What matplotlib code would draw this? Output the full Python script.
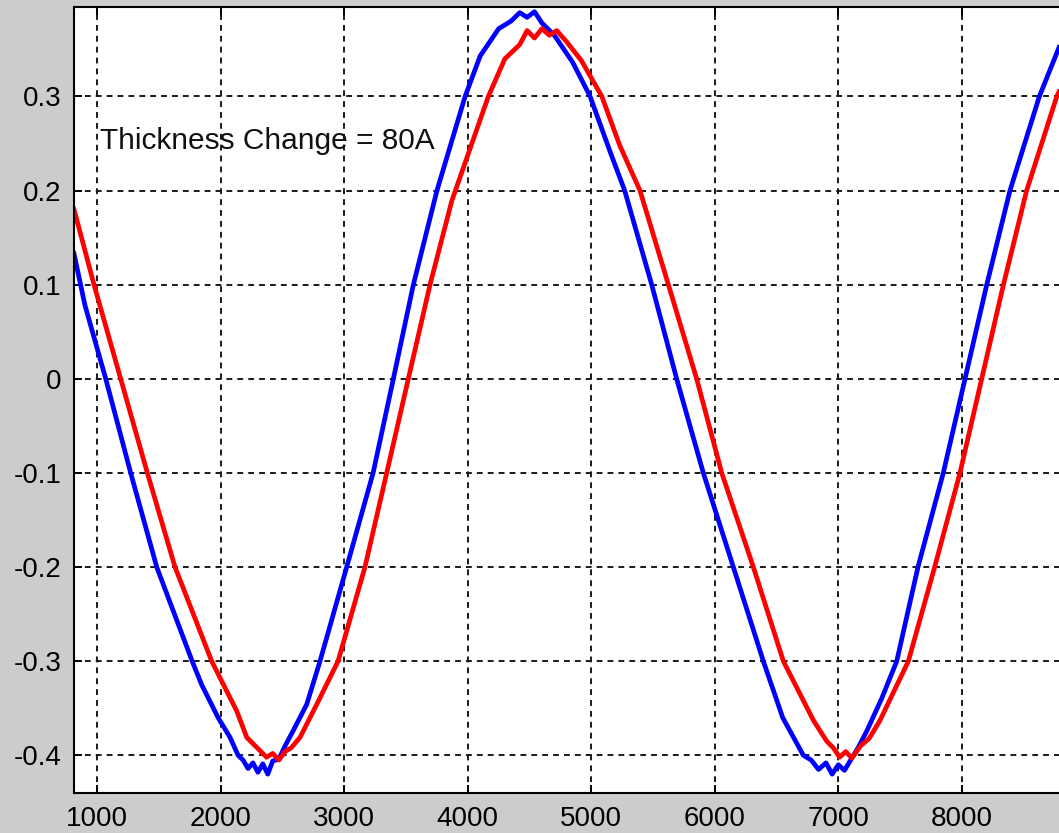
"""
Thickness change plot: two shifted, noisy sinusoidal signals (blue / red).
"""

import matplotlib
matplotlib.use('Agg')
import matplotlib.pyplot as plt

# --- data ---
blue_x = [811, 900, 1068, 1270, 1481, 1768, 1845, 1978, 2075, 2140, 2180, 2220,
          2260, 2300, 2340, 2380, 2420, 2470, 2520, 2585, 2695, 2803, 3019, 3233,
          3397, 3559, 3750, 3978, 4100, 4250, 4350, 4420, 4480, 4540, 4600, 4700,
          4850, 4990, 5150, 5270, 5489, 5691, 5907, 6150, 6393, 6550, 6717, 6780,
          6840, 6900, 6950, 7000, 7050, 7100, 7160, 7231, 7350, 7473, 7645, 7850,
          8026, 8202, 8390, 8628, 8787]
blue_y = [0.133, 0.078, 0.0, -0.10, -0.20, -0.30, -0.325, -0.36, -0.381, -0.40, -0.405, -0.414,
          -0.408, -0.418, -0.409, -0.42, -0.406, -0.404, -0.39, -0.374, -0.346, -0.30, -0.20, -0.10,
          0.0, 0.10, 0.20, 0.30, 0.343, 0.372, 0.38, 0.389, 0.384, 0.39, 0.378, 0.365,
          0.336, 0.30, 0.242, 0.20, 0.10, 0.0, -0.10, -0.20, -0.30, -0.36, -0.40, -0.405,
          -0.415, -0.408, -0.42, -0.41, -0.416, -0.405, -0.392, -0.374, -0.34, -0.30, -0.20, -0.10,
          0.0, 0.10, 0.20, 0.30, 0.352]

red_x = [811, 973, 1189, 1405, 1629, 1926, 2129, 2210, 2317, 2370, 2420, 2470,
         2520, 2570, 2641, 2776, 2949, 3167, 3343, 3518, 3694, 3870, 4166, 4300,
         4420, 4480, 4540, 4600, 4660, 4720, 4800, 4920, 5085, 5230, 5394, 5624,
         5853, 6056, 6312, 6555, 6799, 6906, 6960, 7010, 7060, 7110, 7180, 7250,
         7337, 7567, 7780, 7985, 8161, 8337, 8525, 8769, 8787]
red_y = [0.18, 0.10, 0.0, -0.10, -0.20, -0.30, -0.353, -0.381, -0.395, -0.402, -0.398, -0.405,
         -0.396, -0.392, -0.381, -0.346, -0.30, -0.20, -0.10, 0.0, 0.10, 0.189, 0.30, 0.34,
         0.355, 0.37, 0.362, 0.372, 0.365, 0.37, 0.358, 0.338, 0.30, 0.248, 0.20, 0.10,
         0.0, -0.10, -0.20, -0.30, -0.363, -0.385, -0.392, -0.402, -0.396, -0.403, -0.39, -0.382,
         -0.363, -0.30, -0.20, -0.10, 0.0, 0.10, 0.20, 0.30, 0.305]

x_ticks = [1000, 2000, 3000, 4000, 5000, 6000, 7000, 8000]
x_tick_labels = ['1000', '2000', '3000', '4000', '5000', '6000', '7000', '8000']
y_ticks = [-0.4, -0.3, -0.2, -0.1, 0.0, 0.1, 0.2, 0.3]
y_tick_labels = ['-0.4', '-0.3', '-0.2', '-0.1', '0', '0.1', '0.2', '0.3']

annotation = 'Thickness Change = 80A'

plt.rcParams['font.family'] = ['Liberation Sans', 'DejaVu Sans']

fig = plt.figure(figsize=(10.59, 8.33), dpi=100, facecolor='#cccccc')
ax = fig.add_axes([74 / 1059, 40 / 833, 1 - 74 / 1059, 786 / 833])
ax.set_facecolor('white')

# Curve (blu prima, rosso sopra)
ax.plot(blue_x, blue_y, color='#0000ff', linewidth=3.4, solid_joinstyle='round')
ax.plot(red_x, red_y, color='#ff0000', linewidth=3.4, solid_joinstyle='round')

ax.text(1025, 0.253, annotation, ha='left', va='center', fontsize=21.5, color='#111111')

# Assi e griglia
ax.set_xlim(811, 8787)
ax.set_ylim(-0.44, 0.395)
ax.set_xticks(x_ticks)
ax.set_xticklabels(x_tick_labels)
ax.set_yticks(y_ticks)
ax.set_yticklabels(y_tick_labels)

ax.grid(True, color='#1a1a1a', linewidth=1.4, linestyle=(0, (3.0, 2.6)))
ax.set_axisbelow(True)

ax.tick_params(axis='both', direction='in', length=5.5, width=1.4, labelsize=20,
               colors='black', top=True, right=False, pad=9)
ax.tick_params(axis='x', pad=9)

for side in ['left', 'bottom', 'top']:
    ax.spines[side].set_linewidth(1.5)
    ax.spines[side].set_color('black')
ax.spines['right'].set_visible(False)

fig.savefig('out.png', dpi=100, facecolor=fig.get_facecolor())
plt.close(fig)
